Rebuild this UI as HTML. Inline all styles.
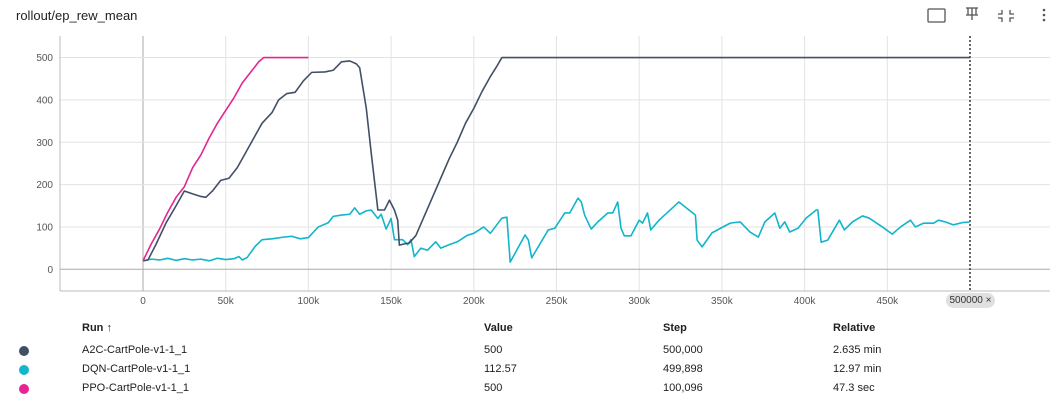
<!DOCTYPE html>
<html><head><meta charset="utf-8"><style>
body{margin:0;background:#fff;font-family:"Liberation Sans",sans-serif;}
#wrap{position:relative;width:1056px;height:409px;overflow:hidden;}
.t{position:absolute;font-size:11px;color:#212121;white-space:nowrap;}
.h{font-weight:bold;}
.dot{position:absolute;width:10px;height:10px;border-radius:50%;}
</style></head><body>
<div id="wrap">
<div class="t" style="left:16px;top:8px;font-size:13px;">rollout/ep_rew_mean</div>
<svg width="1056" height="409" style="position:absolute;left:0;top:0" id="svg">
<g fill="none" stroke="#555" stroke-width="1.3">
<rect x="928" y="9" width="17" height="13" rx="1"/>
<path d="M966 8h12M972 8v12M968 8v7h8v-7M966 15h12"/>
<path d="M1002 10v4h-4M1010 10v4h4M1002 22v-4h-4M1010 22v-4h4"/>
</g>
<g fill="#555"><circle cx="1044" cy="10" r="1.3"/><circle cx="1044" cy="15" r="1.3"/><circle cx="1044" cy="20" r="1.3"/></g>
<g id="grid"></g><g id="series"></g>
</svg>
<div style="position:absolute;left:946px;top:293px;width:49px;height:15px;border-radius:8px;background:#e0e0e0;font-size:10px;color:#333;text-align:center;line-height:15px;">500000 ×</div>
<div class="t h" style="left:82px;top:322px">Run ↑</div>
<div class="t h" style="left:484px;top:322px">Value</div>
<div class="t h" style="left:663px;top:322px">Step</div>
<div class="t h" style="left:833px;top:322px">Relative</div>
<div class="dot" style="left:19px;top:346px;background:#425066"></div>
<div class="t" style="left:82px;top:344px">A2C-CartPole-v1-1_1</div>
<div class="t" style="left:484px;top:344px">500</div><div class="t" style="left:663px;top:344px">500,000</div><div class="t" style="left:833px;top:344px">2.635 min</div>
<div class="dot" style="left:19px;top:365px;background:#12b5cb"></div>
<div class="t" style="left:82px;top:363px">DQN-CartPole-v1-1_1</div>
<div class="t" style="left:484px;top:363px">112.57</div><div class="t" style="left:663px;top:363px">499,898</div><div class="t" style="left:833px;top:363px">12.97 min</div>
<div class="dot" style="left:19px;top:384px;background:#e52592"></div>
<div class="t" style="left:82px;top:382px">PPO-CartPole-v1-1_1</div>
<div class="t" style="left:484px;top:382px">500</div><div class="t" style="left:663px;top:382px">100,096</div><div class="t" style="left:833px;top:382px">47.3 sec</div>
</div>
<script>
const xTicks=[0,50,100,150,200,250,300,350,400,450];
const yTicks=[0,100,200,300,400,500];
const a2cSteps=[0,3,8,14,20,25,30,35,38,42,47,52,57,62,67,72,78,82,87,92,97,102,110,115,120,125,129,131,135,138,142,146,149,152,154,155,158,161,165,170,175,180,185,190,195,200,205,210,214,217,500];
const a2cVals=[20,22,60,110,150,185,178,172,170,185,210,215,240,275,310,345,370,400,415,418,445,465,466,470,490,492,485,476,380,274,140,140,163,140,116,57,60,62,80,125,170,215,260,300,345,380,420,455,480,500,500];
const dqnSteps=[0,5,10,15,20,25,30,35,40,45,50,55,58,60,63,68,72,78,85,90,95,100,106,112,115,120,125,128,131,135,138,142,144,147,150,152,157,160,162,164,168,172,177,180,185,190,196,200,206,210,217,220,222,231,233,235,245,249,255,258,263,265,267,271,275,281,284,287,289,291,295,300,302,305,307,312,324,334,335,338,344,355,361,367,372,376,382,385,388,391,396,401,407,408,410,414,421,424,429,435,439,447,453,458,464,467,472,478,481,485,490,495,500];
const dqnVals=[20,24,22,26,21,25,22,24,20,26,23,25,30,22,28,55,70,72,76,78,72,75,100,110,125,128,130,145,130,138,140,120,130,95,120,70,70,58,70,30,50,45,65,50,58,65,80,85,100,85,121,123,17,81,69,27,93,97,133,133,168,159,128,95,112,133,133,159,97,79,79,116,109,133,93,116,159,128,69,53,86,109,112,88,76,112,133,97,112,88,97,121,140,140,64,69,116,93,112,126,121,100,83,100,116,100,109,109,116,112,105,110,112];
const ppoSteps=[0,5,10,15,20,25,30,35,40,45,50,55,60,65,70,73,100];
const ppoVals=[20,60,95,135,170,195,240,270,310,345,375,405,440,465,490,500,500];
const X=k=>143+k*1.654, Y=v=>269.3-v*0.4235;
const NS="http://www.w3.org/2000/svg";
const g=document.getElementById('grid'), s=document.getElementById('series');
function mk(p,tag,a){const e=document.createElementNS(NS,tag);for(const k in a)e.setAttribute(k,a[k]);p.appendChild(e);return e;}
xTicks.forEach(k=>{const l=mk(g,'line',{x1:X(k),x2:X(k),y1:36,y2:291,stroke:k===0?'#aaa':'#e3e3e3','stroke-width':1});


const t=mk(g,'text',{x:X(k),y:304,'text-anchor':'middle','font-size':10,fill:'#555','font-family':'Liberation Sans'});t.textContent=k===0?'0':k+'k';

});
yTicks.forEach(v=>{const l=mk(g,'line',{x1:60,x2:1050,y1:Y(v),y2:Y(v),stroke:v===0?'#aaa':'#e3e3e3','stroke-width':1});


const t=mk(g,'text',{x:53,y:Y(v)+3.5,'text-anchor':'end','font-size':10,fill:'#555','font-family':'Liberation Sans'});t.textContent=v;

});
mk(g,'line',{x1:60,x2:60,y1:36,y2:291,stroke:'#bbb'});
mk(g,'line',{x1:60,x2:1050,y1:291,y2:291,stroke:'#bbb'});
const dl=mk(g,'line',{x1:X(500),x2:X(500),y1:36,y2:291,stroke:'#333','stroke-width':1.5,'stroke-dasharray':'2,2'});


function line(st,vs,c,n){const p=mk(s,'polyline',{points:st.map((k,i)=>X(k)+','+Y(vs[i])).join(' '),fill:'none',stroke:c,'stroke-width':1.6,'stroke-linejoin':'round'});

}
line(dqnSteps,dqnVals,'#12b5cb','dqn-line');
line(a2cSteps,a2cVals,'#425066','a2c-line');
line(ppoSteps,ppoVals,'#e52592','ppo-line');
</script>
</body></html>
